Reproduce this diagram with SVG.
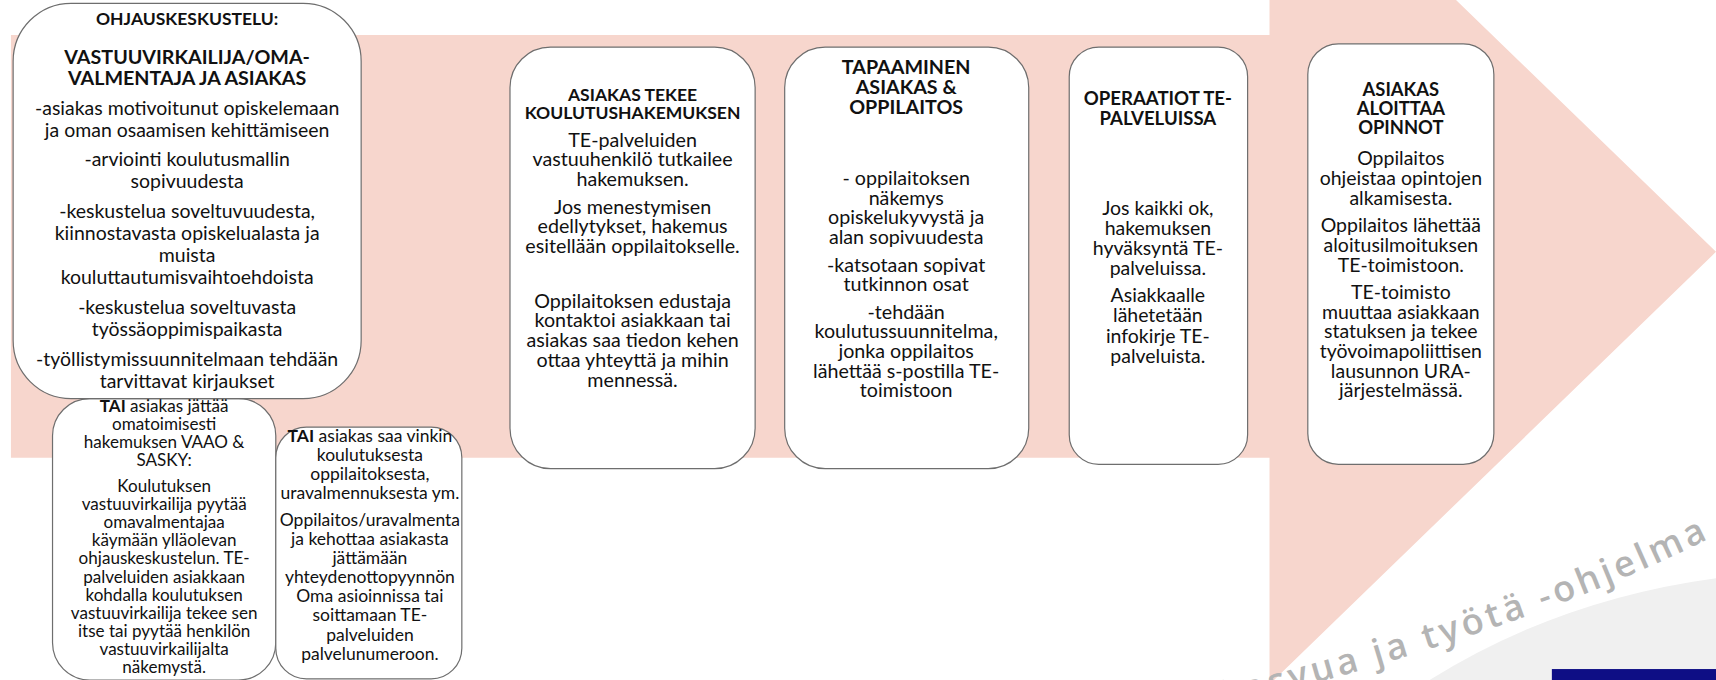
<svg xmlns="http://www.w3.org/2000/svg" width="1716" height="680" viewBox="0 0 1716 680">
<defs>
<style>
.box{fill:#ffffff;stroke:#6e6e6e;stroke-width:1.1}
text{font-family:Lato,"Liberation Sans",sans-serif;fill:#111;text-anchor:middle}
.b{font-weight:bold}
.t1{font-size:17.8px}
.h1a{font-size:16px;font-weight:bold}
.h1{font-size:18px;font-weight:bold}
.t2{font-size:18px}
.h2{font-size:16px;font-weight:bold}
.t3{font-size:18px}
.h3{font-size:18px;font-weight:bold}
.t4{font-size:17.8px}
.h4{font-size:17px;font-weight:bold}
.t6{font-size:17.8px}
.h6{font-size:16.8px;font-weight:bold}
.ta{font-size:15.6px}
.tb{font-size:16px}
.wm{font-family:"Open Sans",sans-serif;font-size:33px;font-weight:600;fill:#b4b4b4;text-anchor:start}
</style>
<path id="wmpath" d="M 1112 648 Q 1417 570 1584 480"/>
</defs>
<rect width="1716" height="680" fill="#ffffff"/>
<g transform="scale(1.0944,1.095)">
<g id="arrow">
<polygon points="10,32 1160,32 1160,-165 1568,230 1160,625 1160,418 10,418" fill="#f7d6cd"/>
</g>
<g id="watermark">
<path d="M 1300 625 Q 1420 548 1568 528 L 1568 625 Z" fill="#f0f0f0"/>
<text class="wm"><textPath href="#wmpath" startOffset="6" textLength="470" lengthAdjust="spacing">kasvua ja työtä -ohjelma</textPath></text>
<rect x="1418" y="611" width="150" height="14" fill="#0e0e85"/>
</g>
<g id="connectors"></g>
<g id="n3a">
<rect class="box" x="48" y="364" width="204" height="257" rx="34"/>
<text class="ta"><tspan x="150" y="376"><tspan class="b">TAI</tspan> asiakas jättää</tspan><tspan x="150" y="392.5">omatoimisesti</tspan><tspan x="150" y="409">hakemuksen VAAO &amp;</tspan><tspan x="150" y="425.5">SASKY:</tspan><tspan x="150" y="449">Koulutuksen</tspan><tspan x="150" y="465.6">vastuuvirkailija pyytää</tspan><tspan x="150" y="482.2">omavalmentajaa</tspan><tspan x="150" y="498.8">käymään ylläolevan</tspan><tspan x="150" y="515.4">ohjauskeskustelun. TE-</tspan><tspan x="150" y="532">palveluiden asiakkaan</tspan><tspan x="150" y="548.6">kohdalla koulutuksen</tspan><tspan x="150" y="565.2">vastuuvirkailija tekee sen</tspan><tspan x="150" y="581.8">itse tai pyytää henkilön</tspan><tspan x="150" y="598.4">vastuuvirkailijalta</tspan><tspan x="150" y="615">näkemystä.</tspan></text>
</g>
<g id="n1">
<rect class="box" x="12" y="3" width="318" height="361" rx="53"/>
<text class="h1a" x="171" y="23">OHJAUSKESKUSTELU:</text>
<text class="h1"><tspan x="171" y="58">VASTUUVIRKAILIJA/OMA-</tspan><tspan x="171" y="78">VALMENTAJA JA ASIAKAS</tspan></text>
<text class="t1"><tspan x="171" y="105">-asiakas motivoitunut opiskelemaan</tspan><tspan x="171" y="125">ja oman osaamisen kehittämiseen</tspan><tspan x="171" y="152">-arviointi koulutusmallin</tspan><tspan x="171" y="172">sopivuudesta</tspan><tspan x="171" y="199">-keskustelua soveltuvuudesta,</tspan><tspan x="171" y="219">kiinnostavasta opiskelualasta ja</tspan><tspan x="171" y="239">muista</tspan><tspan x="171" y="259">kouluttautumisvaihtoehdoista</tspan><tspan x="171" y="287">-keskustelua soveltuvasta</tspan><tspan x="171" y="307">työssäoppimispaikasta</tspan><tspan x="171" y="334">-työllistymissuunnitelmaan tehdään</tspan><tspan x="171" y="354">tarvittavat kirjaukset</tspan></text>
</g>
<g id="n3b">
<rect class="box" x="252" y="390" width="170" height="230" rx="28"/>
<text class="tb"><tspan x="338" y="403.5"><tspan class="b">TAI</tspan> asiakas saa vinkin</tspan><tspan x="338" y="421">koulutuksesta</tspan><tspan x="338" y="438.5">oppilaitoksesta,</tspan><tspan x="338" y="456">uravalmennuksesta ym.</tspan><tspan x="338" y="480">Oppilaitos/uravalmenta</tspan><tspan x="338" y="497.5">ja kehottaa asiakasta</tspan><tspan x="338" y="515">jättämään</tspan><tspan x="338" y="532.5">yhteydenottopyynnön</tspan><tspan x="338" y="550">Oma asioinnissa tai</tspan><tspan x="338" y="567.5">soittamaan TE-</tspan><tspan x="338" y="585">palveluiden</tspan><tspan x="338" y="602.5">palvelunumeroon.</tspan></text>
</g>
<g id="n2">
<rect class="box" x="466" y="43" width="224" height="385" rx="37"/>
<text class="h2"><tspan x="578" y="92">ASIAKAS TEKEE</tspan><tspan x="578" y="108.5">KOULUTUSHAKEMUKSEN</tspan></text>
<text class="t2"><tspan x="578" y="134">TE-palveluiden</tspan><tspan x="578" y="152">vastuuhenkilö tutkailee</tspan><tspan x="578" y="170">hakemuksen.</tspan><tspan x="578" y="195">Jos menestymisen</tspan><tspan x="578" y="213">edellytykset, hakemus</tspan><tspan x="578" y="231">esitellään oppilaitokselle.</tspan><tspan x="578" y="281">Oppilaitoksen edustaja</tspan><tspan x="578" y="299">kontaktoi asiakkaan tai</tspan><tspan x="578" y="317">asiakas saa tiedon kehen</tspan><tspan x="578" y="335">ottaa yhteyttä ja mihin</tspan><tspan x="578" y="353">mennessä.</tspan></text>
</g>
<g id="n3">
<rect class="box" x="717" y="43" width="223" height="385" rx="37"/>
<text class="h3"><tspan x="828" y="68">TAPAAMINEN</tspan><tspan x="828" y="86">ASIAKAS &amp;</tspan><tspan x="828" y="104">OPPILAITOS</tspan></text>
<text class="t3"><tspan x="828" y="169">- oppilaitoksen</tspan><tspan x="828" y="187">näkemys</tspan><tspan x="828" y="205">opiskelukyvystä ja</tspan><tspan x="828" y="223">alan sopivuudesta</tspan><tspan x="828" y="248">-katsotaan sopivat</tspan><tspan x="828" y="266">tutkinnon osat</tspan><tspan x="828" y="291">-tehdään</tspan><tspan x="828" y="309">koulutussuunnitelma,</tspan><tspan x="828" y="327">jonka oppilaitos</tspan><tspan x="828" y="345">lähettää s-postilla TE-</tspan><tspan x="828" y="363">toimistoon</tspan></text>
</g>
<g id="n4">
<rect class="box" x="977" y="43" width="163" height="381" rx="27"/>
<text class="h4"><tspan x="1058" y="96">OPERAATIOT TE-</tspan><tspan x="1058" y="114">PALVELUISSA</tspan></text>
<text class="t4"><tspan x="1058" y="196">Jos kaikki ok,</tspan><tspan x="1058" y="214.5">hakemuksen</tspan><tspan x="1058" y="233">hyväksyntä TE-</tspan><tspan x="1058" y="251.5">palveluissa.</tspan><tspan x="1058" y="276">Asiakkaalle</tspan><tspan x="1058" y="294.5">lähetetään</tspan><tspan x="1058" y="313">infokirje TE-</tspan><tspan x="1058" y="331.5">palveluista.</tspan></text>
</g>
<g id="n5">
<rect class="box" x="1195" y="40" width="170" height="384" rx="28"/>
<text class="h6"><tspan x="1280" y="88">ASIAKAS</tspan><tspan x="1280" y="105">ALOITTAA</tspan><tspan x="1280" y="122">OPINNOT</tspan></text>
<text class="t6"><tspan x="1280" y="151">Oppilaitos</tspan><tspan x="1280" y="169">ohjeistaa opintojen</tspan><tspan x="1280" y="187">alkamisesta.</tspan><tspan x="1280" y="212">Oppilaitos lähettää</tspan><tspan x="1280" y="230">aloitusilmoituksen</tspan><tspan x="1280" y="248">TE-toimistoon.</tspan><tspan x="1280" y="273">TE-toimisto</tspan><tspan x="1280" y="291">muuttaa asiakkaan</tspan><tspan x="1280" y="309">statuksen ja tekee</tspan><tspan x="1280" y="327">työvoimapoliittisen</tspan><tspan x="1280" y="345">lausunnon URA-</tspan><tspan x="1280" y="363">järjestelmässä.</tspan></text>
</g>
</g>
</svg>
